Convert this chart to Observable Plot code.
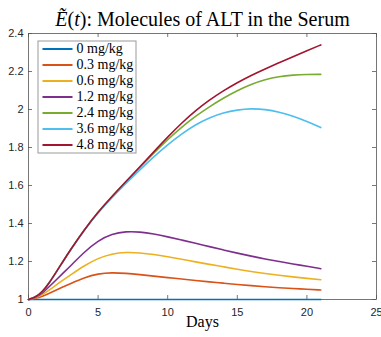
<!DOCTYPE html>
<html>
<head>
<meta charset="utf-8">
<script src="https://cdn.jsdelivr.net/npm/d3@7"></script>
<script src="https://cdn.jsdelivr.net/npm/@observablehq/plot@0.6"></script>
<style>
  body { margin: 0; background: white; }
</style>
</head>
<body>
<div id="chart"></div>
<script>
// Days sampled for each dose curve
const days = [0, 0.5, 1, 1.5, 2, 2.5, 3, 4, 5, 6, 7, 8, 9, 10, 11, 12, 13, 14, 15, 16, 17, 18, 19, 20, 21];

const doses = ["0 mg/kg", "0.3 mg/kg", "0.6 mg/kg", "1.2 mg/kg", "2.4 mg/kg", "3.6 mg/kg", "4.8 mg/kg"];
const colors = ["#0072BD", "#D95319", "#EDB120", "#7E2F8E", "#77AC30", "#4DBEEE", "#A2142F"];

// Normalized ALT molecules in the serum, one array per dose
const alt0  = [1, 1, 1, 1, 1, 1, 1, 1, 1, 1, 1, 1, 1, 1, 1, 1, 1, 1, 1, 1, 1, 1, 1, 1, 1];
const alt03 = [1, 1.005, 1.017, 1.033, 1.05, 1.067, 1.083, 1.115, 1.136, 1.142, 1.138, 1.131, 1.123, 1.115, 1.108, 1.1, 1.093, 1.086, 1.079, 1.073, 1.067, 1.062, 1.058, 1.054, 1.05];
const alt06 = [1, 1.008, 1.025, 1.05, 1.077, 1.103, 1.128, 1.178, 1.218, 1.241, 1.249, 1.246, 1.237, 1.225, 1.212, 1.198, 1.185, 1.172, 1.159, 1.147, 1.137, 1.128, 1.119, 1.111, 1.104];
const alt12 = [1, 1.01, 1.033, 1.068, 1.104, 1.14, 1.175, 1.25, 1.31, 1.346, 1.358, 1.356, 1.345, 1.33, 1.313, 1.296, 1.278, 1.261, 1.244, 1.228, 1.213, 1.2, 1.187, 1.175, 1.162];
const alt24 = [1, 1.012, 1.04, 1.088, 1.145, 1.203, 1.26, 1.367, 1.461, 1.542, 1.619, 1.695, 1.77, 1.842, 1.908, 1.965, 2.015, 2.06, 2.1, 2.133, 2.158, 2.174, 2.182, 2.185, 2.185];
const alt36 = [1, 1.012, 1.04, 1.088, 1.145, 1.203, 1.259, 1.365, 1.458, 1.537, 1.611, 1.683, 1.752, 1.815, 1.872, 1.92, 1.957, 1.983, 1.998, 2.005, 2.001, 1.987, 1.965, 1.937, 1.905];
const alt48 = [1, 1.012, 1.04, 1.088, 1.145, 1.203, 1.26, 1.367, 1.461, 1.543, 1.621, 1.699, 1.777, 1.855, 1.929, 1.994, 2.05, 2.099, 2.142, 2.18, 2.214, 2.246, 2.278, 2.309, 2.34];

const xTicks = [0, 5, 10, 15, 20, 25];
const yTicks = [1, 1.2, 1.4, 1.6, 1.8, 2, 2.2, 2.4];

const titleText = "Ẽ(t): Molecules of ALT in the Serum";
const xLabel = "Days";

const seriesList = [alt0, alt03, alt06, alt12, alt24, alt36, alt48];
const rows = seriesList.flatMap((vals, i) =>
  vals.map((v, j) => ({ day: days[j], value: v, dose: doses[i] }))
);

const W = 381, H = 337, mL = 28, mR = 5, mT = 33, mB = 38;
const frameW = W - mL - mR, frameH = H - mT - mB, tickLen = 4;
const axisColor = "#555";
const serif = "Liberation Serif";

// Legend layout, relative to the plot frame's top-left corner
const lgLeft = 9.5, lgTop = 7.5, lgWidth = 98, lgHeight = 112, rowStep = 16, rowFirst = 15.5;
const legendMarks = [
  Plot.frame({ fill: "white", stroke: "#999", strokeWidth: 1,
    insetLeft: lgLeft, insetTop: lgTop,
    insetRight: frameW - lgLeft - lgWidth, insetBottom: frameH - lgTop - lgHeight }),
  ...doses.flatMap((name, i) => {
    const cy = rowFirst + rowStep * i;
    return [
      Plot.frame({ fill: colors[i], stroke: null,
        insetLeft: 14, insetRight: frameW - 44,
        insetTop: cy - 1, insetBottom: frameH - cy - 1 }),
      Plot.text([name], { frameAnchor: "top-left", dx: 48, dy: cy, textAnchor: "start", lineAnchor: "middle",
        fontFamily: serif, fontSize: 14, fill: "#000" })
    ];
  })
];

const chart = Plot.plot({
  width: W, height: H,
  marginLeft: mL, marginRight: mR, marginTop: mT, marginBottom: mB,
  style: { fontFamily: "Liberation Sans", fontSize: "11px", color: "#262626", background: "white", overflow: "visible" },
  x: { domain: [0, 25] },
  y: { domain: [1, 2.4] },
  color: { domain: doses, range: colors },
  marks: [
    Plot.frame({ stroke: axisColor, strokeWidth: 0.8 }),
    // inward ticks on all four sides
    Plot.tickX(xTicks, { x: d => d, insetTop: frameH - tickLen, stroke: axisColor, strokeWidth: 0.8 }),
    Plot.tickX(xTicks, { x: d => d, insetBottom: frameH - tickLen, stroke: axisColor, strokeWidth: 0.8 }),
    Plot.tickY(yTicks, { y: d => d, insetRight: frameW - tickLen, stroke: axisColor, strokeWidth: 0.8 }),
    Plot.tickY(yTicks, { y: d => d, insetLeft: frameW - tickLen, stroke: axisColor, strokeWidth: 0.8 }),
    Plot.axisX({ ticks: xTicks, tickSize: 0, tickPadding: 9, label: null }),
    Plot.axisY({ ticks: yTicks, tickSize: 0, tickPadding: 5, label: null, tickFormat: d => String(Math.round(d * 10) / 10) }),
    Plot.line(rows, { x: "day", y: "value", z: "dose", stroke: "dose", curve: "basis", strokeWidth: 1.6 }),
    Plot.text([xLabel], { frameAnchor: "bottom", dy: 27, fontFamily: serif, fontSize: 16, fill: "#000" }),
    Plot.text([titleText], { frameAnchor: "top", lineAnchor: "middle", dy: -14, fontFamily: serif, fontSize: 20, fill: "#000" }),
    ...legendMarks
  ]
});
document.getElementById("chart").appendChild(chart);

// Italicize the math symbols of the title: Ẽ and t
d3.select(chart).selectAll("text")
  .filter(function () { return this.textContent === titleText; })
  .each(function () {
    const t = d3.select(this).text("");
    t.append("tspan").attr("font-style", "italic").text("Ẽ");
    t.append("tspan").text("(");
    t.append("tspan").attr("font-style", "italic").text("t");
    t.append("tspan").text("): Molecules of ALT in the Serum");
  });
</script>
</body>
</html>
